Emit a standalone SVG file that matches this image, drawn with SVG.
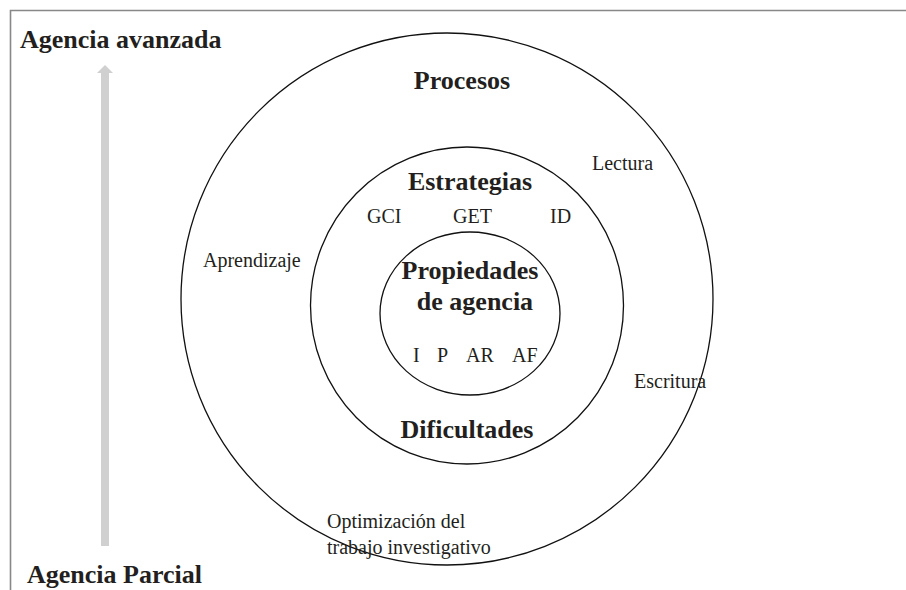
<svg xmlns="http://www.w3.org/2000/svg" width="906" height="590" viewBox="0 0 906 590">
<style>
.b{font-family:"Liberation Serif","Times New Roman",serif;font-weight:bold;font-size:26px;fill:#231f20}
.r{font-family:"Liberation Serif","Times New Roman",serif;font-size:20px;fill:#231f20}
.c{fill:none;stroke:#111;stroke-width:1.3}
</style>
<rect x="0" y="0" width="906" height="590" fill="#fff"/>
<g id="frame"><path d="M10.5 590 V10.5 H906" fill="none" stroke="#888" stroke-width="1.6"/></g>
<g id="axis">
<rect x="101" y="72" width="8" height="474" fill="#d0d0d0"/>
<polygon points="105,65 113,73 97,73" fill="#d0d0d0"/>
<text class="b" x="20" y="48">Agencia avanzada</text>
<text class="b" x="27" y="583">Agencia Parcial</text>
</g>
<g id="procesos">
<circle class="c" cx="447" cy="299" r="266"/>
<text class="b" x="462" y="89" text-anchor="middle">Procesos</text>
<text class="r" x="592" y="170">Lectura</text>
<text class="r" x="203" y="267">Aprendizaje</text>
<text class="r" x="634" y="388">Escritura</text>
<text class="r" x="327" y="528">Optimización del</text>
<text class="r" x="327" y="554">trabajo investigativo</text>
</g>
<g id="estrategias">
<ellipse class="c" cx="467" cy="305.5" rx="156.5" ry="158.5"/>
<text class="b" x="470" y="190" text-anchor="middle">Estrategias</text>
<text class="r" x="367" y="223">GCI</text>
<text class="r" x="453" y="223">GET</text>
<text class="r" x="550" y="223">ID</text>
<text class="b" x="467" y="438" text-anchor="middle">Dificultades</text>
</g>
<g id="propiedades">
<ellipse class="c" cx="470" cy="313.5" rx="90" ry="81.5"/>
<text class="b" x="470" y="279" text-anchor="middle">Propiedades</text>
<text class="b" x="475" y="310" text-anchor="middle">de agencia</text>
<text class="r" x="413" y="362">I</text>
<text class="r" x="437" y="362">P</text>
<text class="r" x="466" y="362">AR</text>
<text class="r" x="512" y="362">AF</text>
</g>
</svg>
